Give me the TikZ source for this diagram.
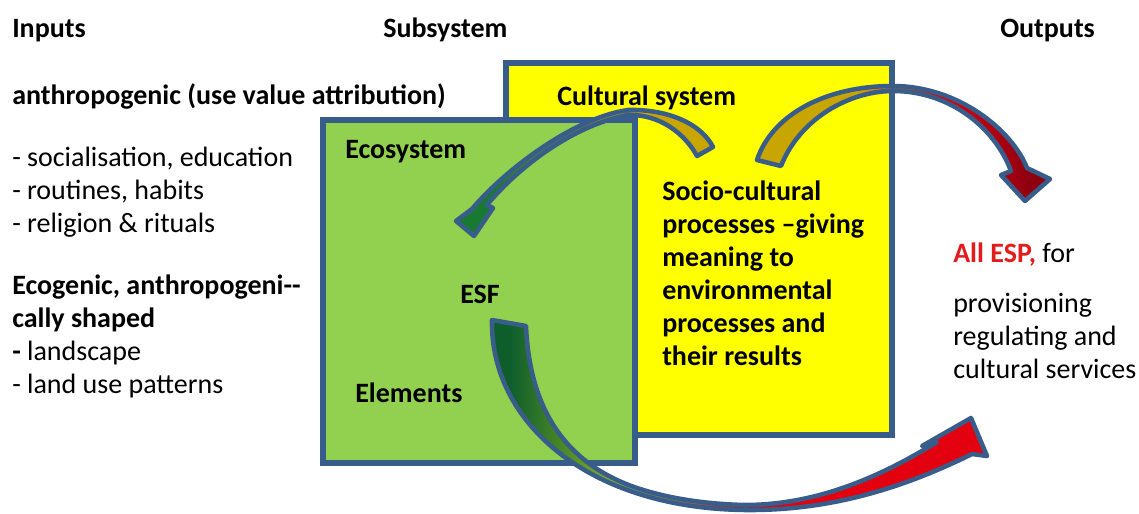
\documentclass[tikz,border=0pt]{standalone}
\usepackage{fontspec}
\setmainfont{Carlito}
\definecolor{FrameBlue} {HTML}{385D8A}
\definecolor{CultYellow}{HTML}{FFFF00}
\definecolor{EcoGreen}  {HTML}{92D050}
\definecolor{EspRed}    {HTML}{E41B1B}
\definecolor{ArrowGold} {HTML}{C9A500}
\definecolor{ArrowGreen}{HTML}{187A32}
\definecolor{DeepGreen} {HTML}{0E5E2C}
\definecolor{LimeGreen} {HTML}{A4C41E}
\definecolor{BrightRed} {HTML}{E3000F}
\definecolor{Maroon}    {HTML}{8C0010}
\pgfdeclarehorizontalshading{cultshade}{100bp}{color(0bp)=(ArrowGreen); color(33bp)=(ArrowGreen);
  color(58bp)=(ArrowGold); color(100bp)=(ArrowGold)}
\pgfdeclarehorizontalshading{outshade}{100bp}{color(0bp)=(ArrowGold); color(42bp)=(ArrowGold);
  color(56bp)=(BrightRed); color(72bp)=(Maroon); color(100bp)=(Maroon)}
\pgfdeclarehorizontalshading{esfshade}{100bp}{color(0bp)=(DeepGreen); color(27bp)=(DeepGreen);
  color(40bp)=(LimeGreen); color(50bp)=(BrightRed); color(100bp)=(BrightRed)}
\tikzset{
  sysbox/.style={draw=FrameBlue,line width=4.5pt},
  flow/.style={draw=FrameBlue,line width=3.4pt,line join=round},
  txt/.style={font=\fontsize{21}{25}\selectfont,anchor=base west,inner sep=0pt},
  btxt/.style={txt,font=\fontsize{21}{25}\selectfont\bfseries},
}
\begin{document}
\begin{tikzpicture}[x=0.75pt,y=-0.75pt]
  \useasboundingbox (0,0) rectangle (1139,514);

  % column headings
  \node[btxt] (inputs)  at (12,37)   {Inputs};
  \node[btxt] (subsys)  at (383,37)  {Subsystem};
  \node[btxt] (outputs) at (1000,37) {Outputs};

  % inputs
  \node[btxt] (anthro) at (12,104) {anthropogenic (use value attribution)};
  \foreach \txt [count=\i from 0] in {{- socialisation, education},{- routines, habits},{- religion \& rituals}}
    \node[txt] (use\i) at (12,166+33*\i) {\txt};
  \node[btxt] (ecogen) at (12,294) {Ecogenic, anthropogeni-{}-};
  \node[btxt] (shaped) at (12,327) {cally shaped};
  \node[txt]  (land0)  at (12,360) {\textbf{-} landscape};
  \node[txt]  (land1)  at (12,393) {- land use patterns};

  % subsystems
  \draw[sysbox,fill=CultYellow] (506,63) rectangle (892,435);
  \draw[sysbox,fill=EcoGreen]   (323,120) rectangle (635,463);
  \node[btxt] (cultsys) at (557,105) {Cultural system};
  \foreach \txt [count=\i from 0] in {Socio-cultural,processes --giving,meaning to,environmental,processes and,their results}
    \node[btxt] (socio\i) at (662,200+33*\i) {\txt};
  \node[btxt] (ecosys) at (345,158) {Ecosystem};
  \node[btxt] (esf)    at (460,303) {ESF};
  \node[btxt] (elem)   at (355,402) {Elements};

  % outputs
  \node[txt] (esp) at (953,262) {{\color{EspRed}\bfseries All ESP,} for};
  \foreach \txt [count=\i from 0] in {provisioning,regulating and,cultural services}
    \node[txt] (serv\i) at (953,312+33*\i) {\txt};

  % curved block arrows
  \shadedraw[flow,shading=cultshade]
    (713,147) .. controls (700,122) and (665,109) .. (628,110)
    .. controls (573,118) and (505,170) .. (472,209)
    -- (456,221) -- (474,236) -- (493,208) -- (487,205)
    .. controls (512,174) and (568,126) .. (628,115)
    .. controls (660,114) and (685,134) .. (697,156) -- cycle;

  \shadedraw[flow,shading=outshade]
    (757,160) .. controls (772,115) and (825,86) .. (893,86)
    .. controls (958,86) and (1012,130) .. (1027,168)
    -- (1050,179) -- (1025,201) -- (1001,175) -- (1011,171)
    .. controls (995,128) and (950,91) .. (893,91)
    .. controls (850,91) and (800,118) .. (781,166) -- cycle;

  \shadedraw[flow,shading=esfshade]
    (492,320) .. controls (490,420) and (585,508) .. (745,510)
    .. controls (840,511) and (915,482) .. (972,454)
    -- (987,456) -- (971,418) -- (922,446) -- (937,442)
    .. controls (885,474) and (820,505) .. (745,505)
    .. controls (700,504) and (665,497) .. (640,489)
    .. controls (575,468) and (530,420) .. (526,326) -- cycle;
\end{tikzpicture}
\end{document}
